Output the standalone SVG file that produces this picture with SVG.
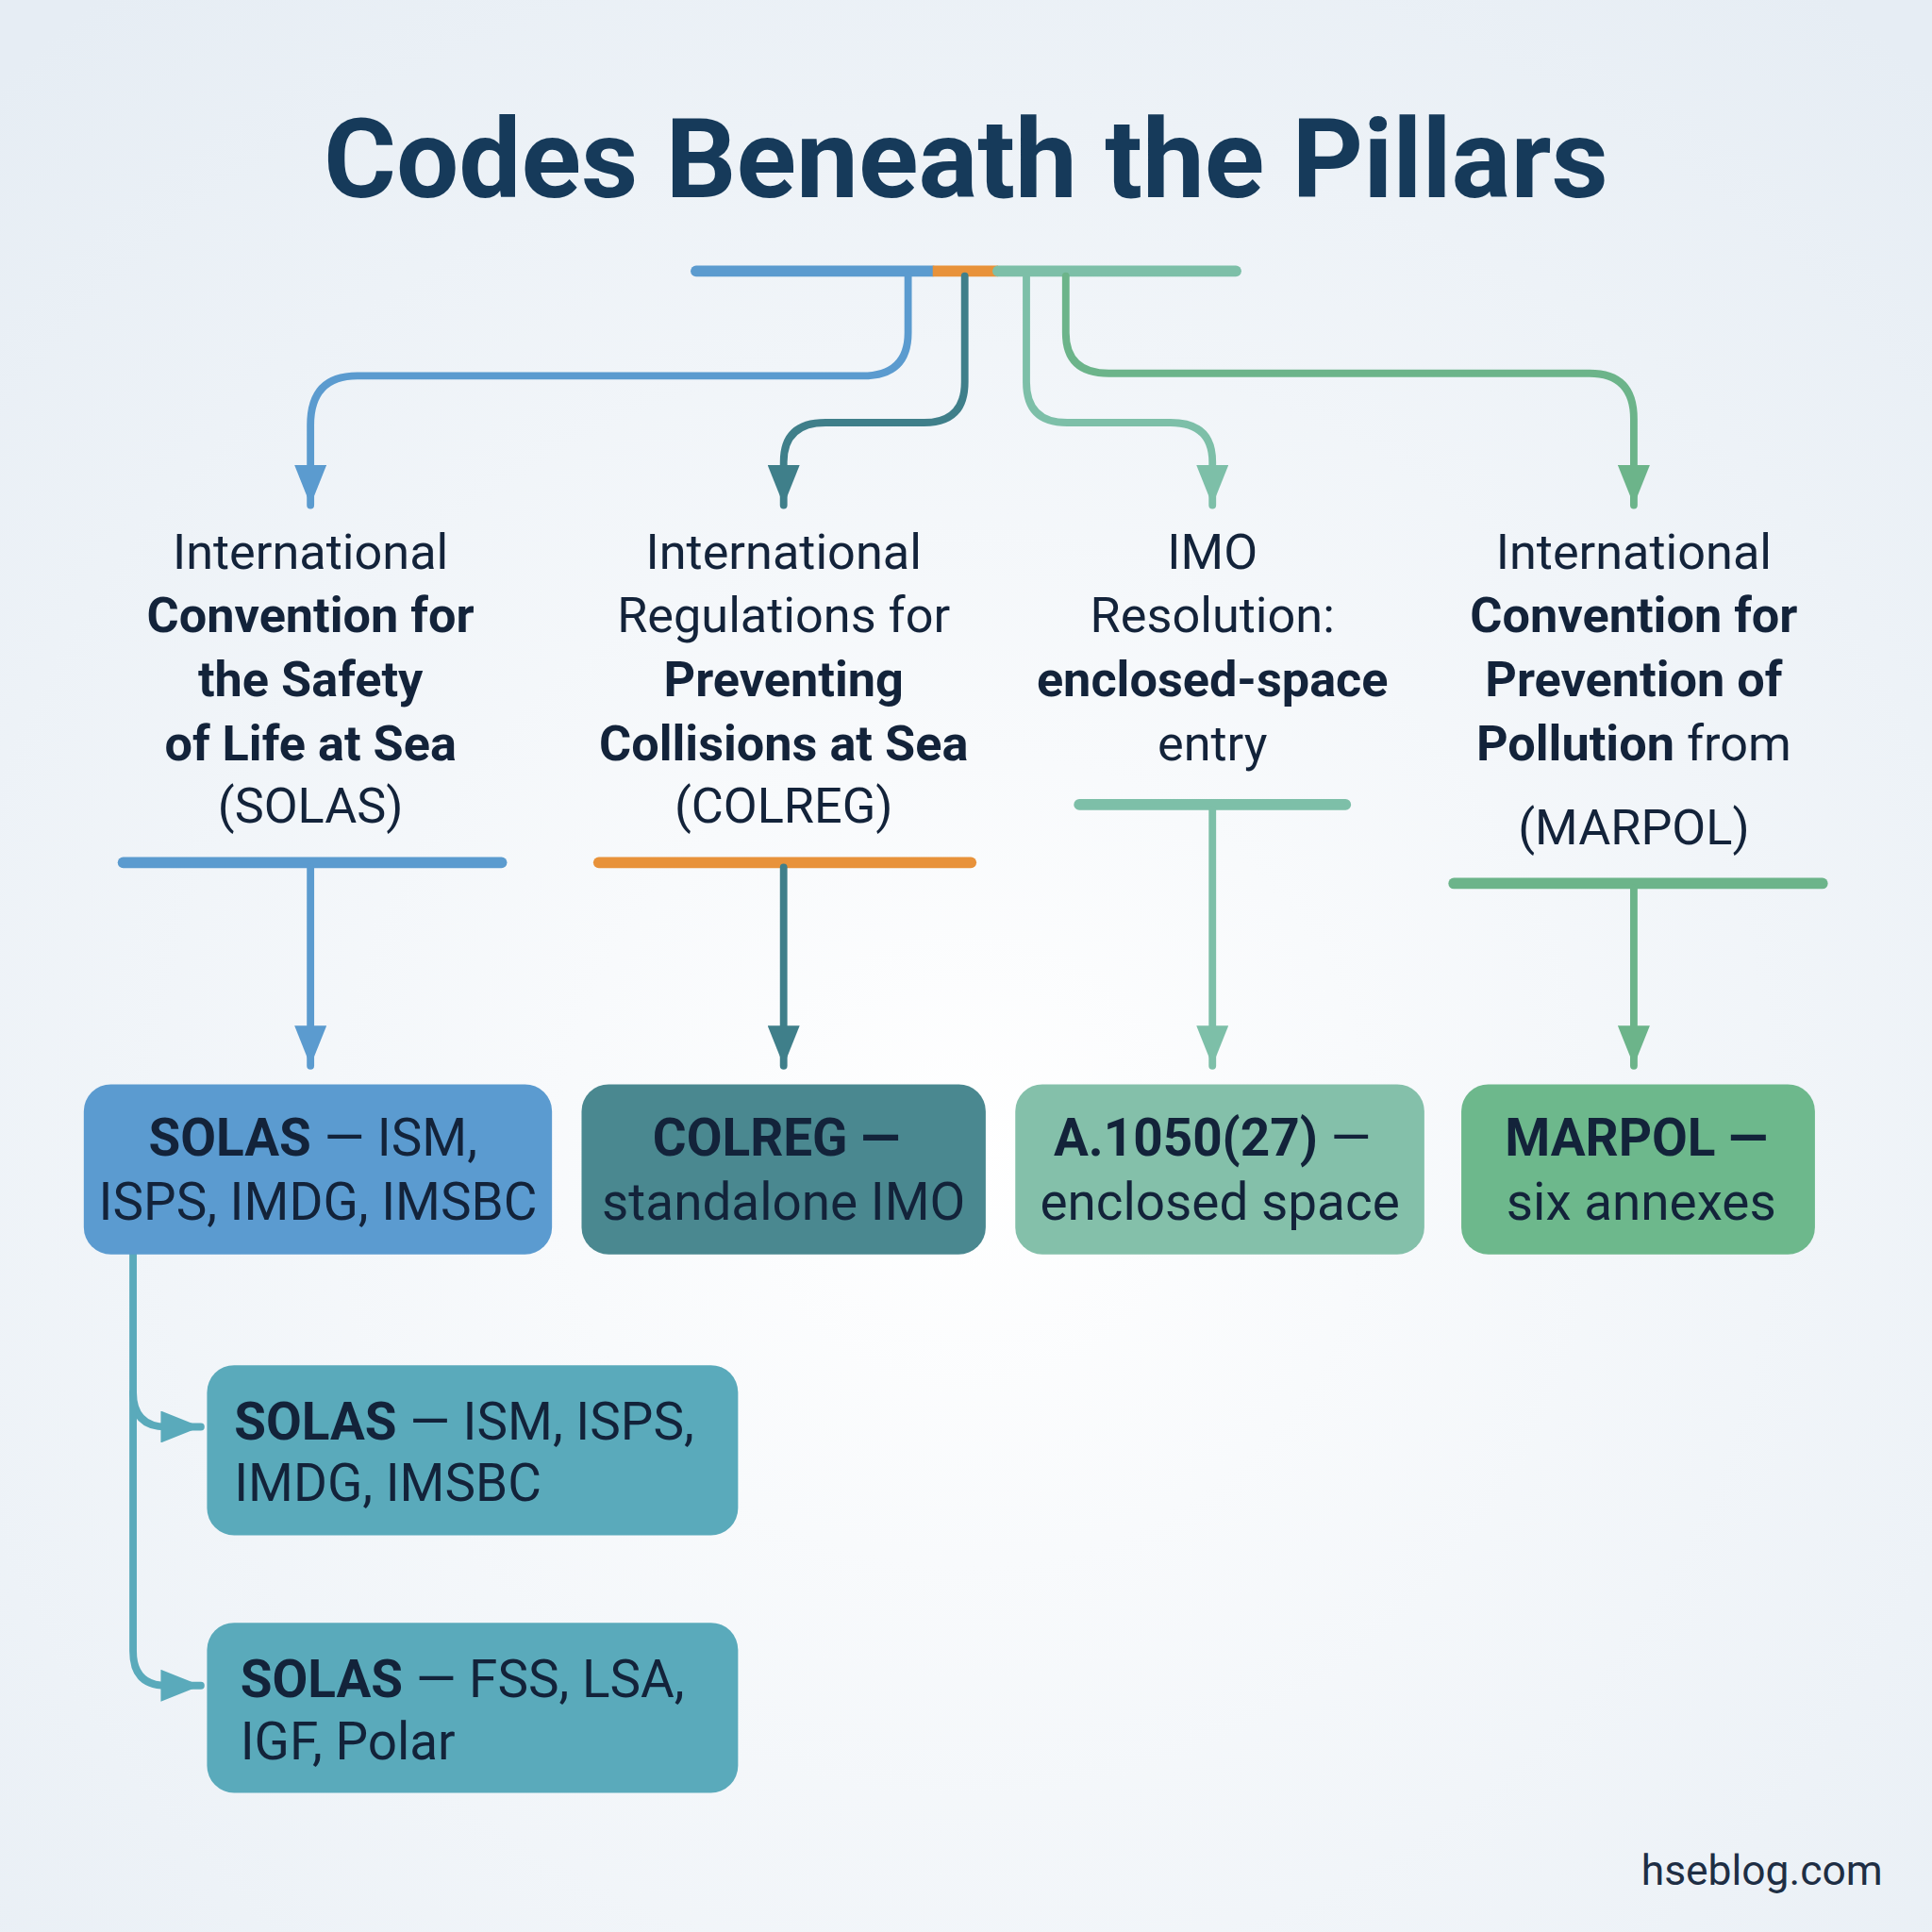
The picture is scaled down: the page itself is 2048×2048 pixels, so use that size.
<svg xmlns="http://www.w3.org/2000/svg" width="2048" height="2048" viewBox="0 0 2048 2048">
<defs>
<radialGradient id="bg" cx="0.5" cy="0.6" r="0.75"><stop offset="0" stop-color="#ffffff"/><stop offset="1" stop-color="#e6edf4"/></radialGradient>
<marker id="aB" viewBox="0 0 10 8" refX="10" refY="4" markerWidth="34" markerHeight="26" markerUnits="userSpaceOnUse" orient="auto"><path d="M0,0 L10,4 L0,8 Z" fill="#5b9bcf"/></marker>
<marker id="aT" viewBox="0 0 10 8" refX="10" refY="4" markerWidth="34" markerHeight="26" markerUnits="userSpaceOnUse" orient="auto"><path d="M0,0 L10,4 L0,8 Z" fill="#3f7f8a"/></marker>
<marker id="aL" viewBox="0 0 10 8" refX="10" refY="4" markerWidth="34" markerHeight="26" markerUnits="userSpaceOnUse" orient="auto"><path d="M0,0 L10,4 L0,8 Z" fill="#7dbfa8"/></marker>
<marker id="aG" viewBox="0 0 10 8" refX="10" refY="4" markerWidth="34" markerHeight="26" markerUnits="userSpaceOnUse" orient="auto"><path d="M0,0 L10,4 L0,8 Z" fill="#6cb48a"/></marker>
<marker id="aS" viewBox="0 0 10 8" refX="10" refY="4" markerWidth="34" markerHeight="26" markerUnits="userSpaceOnUse" orient="auto"><path d="M0,0 L10,4 L0,8 Z" fill="#5aaabb"/></marker>
</defs>
<style>
text{font-family:Roboto,"Liberation Sans",sans-serif;fill:#13233a;}
.h{font-size:40px;text-anchor:middle;}
.b{font-weight:bold;}
.bx{font-size:42px;text-anchor:middle;}
.sx{font-size:42px;}
.c{fill:none;stroke-width:6;stroke-linecap:round;}
.bar{stroke-width:9;stroke-linecap:round;}
</style>
<rect width="2048" height="2048" fill="url(#bg)"/>
<g transform="scale(1.30612)">
<text x="784" y="160" font-size="90" font-weight="bold" text-anchor="middle" style="fill:#163a5a">Codes Beneath the Pillars</text>
<g id="connectors">
<line x1="565" y1="220" x2="757" y2="220" stroke="#5b9bcf" class="bar"/>
<line x1="757" y1="220" x2="810" y2="220" stroke="#e8923a" stroke-width="9"/>
<line x1="810" y1="220" x2="1003" y2="220" stroke="#7dbfa8" class="bar"/>
<path class="c" stroke="#5b9bcf" d="M737,224 V270 Q737,305 700,305 H290 Q252,305 252,345 V410" marker-end="url(#aB)"/>
<path class="c" stroke="#3f7f8a" d="M783,224 V310 Q783,343 750,343 H670 Q636,343 636,375 V410" marker-end="url(#aT)"/>
<path class="c" stroke="#7dbfa8" d="M833,224 V310 Q833,343 866,343 H950 Q984,343 984,375 V410" marker-end="url(#aL)"/>
<path class="c" stroke="#6cb48a" d="M865,224 V270 Q865,303 900,303 H1290 Q1326,303 1326,340 V410" marker-end="url(#aG)"/>
<line x1="100" y1="700" x2="407" y2="700" stroke="#5b9bcf" class="bar"/>
<line x1="486" y1="700" x2="788" y2="700" stroke="#e8923a" class="bar"/>
<line x1="876" y1="653" x2="1092" y2="653" stroke="#7dbfa8" class="bar"/>
<line x1="1180" y1="717" x2="1479" y2="717" stroke="#6cb48a" class="bar"/>
<path class="c" stroke="#5b9bcf" d="M252,704 V865" marker-end="url(#aB)"/>
<path class="c" stroke="#3f7f8a" d="M636,704 V865" marker-end="url(#aT)"/>
<path class="c" stroke="#7dbfa8" d="M984,657 V865" marker-end="url(#aL)"/>
<path class="c" stroke="#6cb48a" d="M1326,721 V865" marker-end="url(#aG)"/>
<path class="c" stroke="#5aaabb" d="M108,1018 V1130 Q108,1158 135,1158 H163" marker-end="url(#aS)"/>
<path class="c" stroke="#5aaabb" d="M108,1130 V1340 Q108,1368 135,1368 H163" marker-end="url(#aS)"/>
</g>
<g id="h1"><text class="h" x="252" y="462">International</text><text class="h b" x="252" y="513">Convention for</text><text class="h b" x="252" y="565">the Safety</text><text class="h b" x="252" y="617">of Life at Sea</text><text class="h" x="252" y="668">(SOLAS)</text></g>
<g id="h2"><text class="h" x="636" y="462">International</text><text class="h" x="636" y="513">Regulations for</text><text class="h b" x="636" y="565">Preventing</text><text class="h b" x="636" y="617">Collisions at Sea</text><text class="h" x="636" y="668">(COLREG)</text></g>
<g id="h3"><text class="h" x="984" y="462">IMO</text><text class="h" x="984" y="513">Resolution:</text><text class="h b" x="984" y="565">enclosed-space</text><text class="h" x="984" y="617">entry</text></g>
<g id="h4"><text class="h" x="1326" y="462">International</text><text class="h b" x="1326" y="513">Convention for</text><text class="h b" x="1326" y="565">Prevention of</text><text class="h" x="1326" y="617"><tspan font-weight="bold">Pollution</tspan> from</text><text class="h" x="1326" y="685">(MARPOL)</text></g>
<g id="b1"><rect x="68" y="880" width="380" height="138" rx="22" fill="#5b9bd0"/><text class="bx" x="254" y="938"><tspan font-weight="bold">SOLAS</tspan> — ISM,</text><text class="bx" x="258" y="990">ISPS, IMDG, IMSBC</text></g>
<g id="b2"><rect x="472" y="880" width="328" height="138" rx="22" fill="#4a8890"/><text class="bx b" x="630" y="938">COLREG —</text><text class="bx" x="636" y="990">standalone IMO</text></g>
<g id="b3"><rect x="824" y="880" width="332" height="138" rx="22" fill="#84c0aa"/><text class="bx" x="984" y="938"><tspan font-weight="bold">A.1050(27)</tspan> —</text><text class="bx" x="990" y="990">enclosed space</text></g>
<g id="b4"><rect x="1186" y="880" width="287" height="138" rx="22" fill="#6db88c"/><text class="bx b" x="1328" y="938">MARPOL —</text><text class="bx" x="1332" y="990">six annexes</text></g>
<g id="s1"><rect x="168" y="1108" width="431" height="138" rx="22" fill="#5aaabb"/><text class="sx" x="190" y="1168"><tspan font-weight="bold">SOLAS</tspan> — ISM, ISPS,</text><text class="sx" x="190" y="1218">IMDG, IMSBC</text></g>
<g id="s2"><rect x="168" y="1317" width="431" height="138" rx="22" fill="#5aaabb"/><text class="sx" x="195" y="1377"><tspan font-weight="bold">SOLAS</tspan> — FSS, LSA,</text><text class="sx" x="195" y="1428">IGF, Polar</text></g>
<text x="1528" y="1530" font-size="34" text-anchor="end" style="fill:#1e2e44">hseblog.com</text>
</g>
</svg>
